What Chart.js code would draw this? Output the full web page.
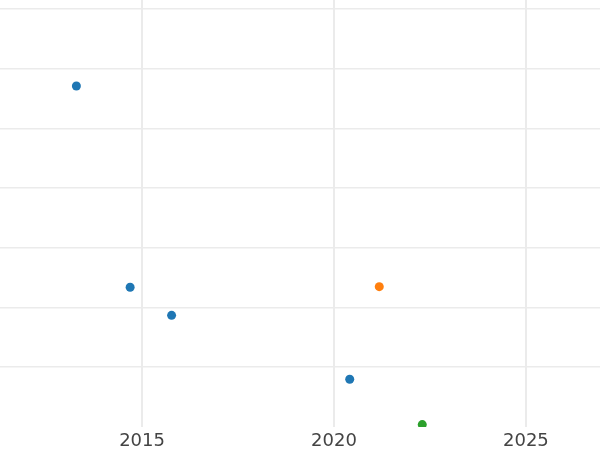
<!DOCTYPE html>
<html>
<head>
<meta charset="utf-8">
<script src="https://cdn.jsdelivr.net/npm/chart.js@4/dist/chart.umd.min.js"></script>
<style>
  html, body { margin: 0; padding: 0; background: #ffffff; }
  #wrap { width: 600px; height: 450px; }
</style>
</head>
<body>
<div id="wrap"><canvas id="c" width="600" height="450"></canvas></div>
<script>
// Data
const seriesAYears  = [2013.29, 2014.69, 2015.77, 2020.41];
const seriesAValues = [5.71, 2.34, 1.87, 0.80];
const seriesBYears  = [2021.18];
const seriesBValues = [2.35];
const seriesCYears  = [2022.30];
const seriesCValues = [0.04];
const xTickLabels   = [2015, 2020, 2025];

const toPoints = (xs, ys) => xs.map((x, i) => ({ x: x, y: ys[i] }));

new Chart(document.getElementById('c'), {
  type: 'scatter',
  data: {
    datasets: [
      { data: toPoints(seriesAYears, seriesAValues), backgroundColor: '#1f77b4', borderWidth: 0, pointRadius: 4.5, clip: 0 },
      { data: toPoints(seriesBYears, seriesBValues), backgroundColor: '#ff7f0e', borderWidth: 0, pointRadius: 4.5, clip: 0 },
      { data: toPoints(seriesCYears, seriesCValues), backgroundColor: '#2ca02c', borderWidth: 0, pointRadius: 4.5, clip: 0 }
    ]
  },
  options: {
    responsive: false,
    animation: false,
    layout: { padding: { top: 0, left: 0, right: 0, bottom: -5 }, autoPadding: false },
    plugins: { legend: { display: false }, tooltip: { enabled: false } },
    scales: {
      x: {
        type: 'linear',
        min: 2011.3,
        max: 2026.93,
        border: { display: false },
        grid: { color: '#ebebeb', lineWidth: 2, drawTicks: false },
        afterBuildTicks: (axis) => { axis.ticks = xTickLabels.map(v => ({ value: v })); },
        ticks: {
          padding: 5,
          color: '#444444',
          font: { family: 'DejaVu Sans', size: 18, lineHeight: 1.0 },
          callback: (v) => String(v)
        }
      },
      y: {
        type: 'linear',
        min: 0,
        max: 7.15,
        border: { display: false },
        grid: {
          color: (ctx) => (ctx.tick && ctx.tick.value === 0) ? 'rgba(0,0,0,0)' : '#ebebeb',
          lineWidth: 1.6,
          drawTicks: false
        },
        ticks: { display: false, stepSize: 1, includeBounds: false }
      }
    }
  }
});
</script>
</body>
</html>
